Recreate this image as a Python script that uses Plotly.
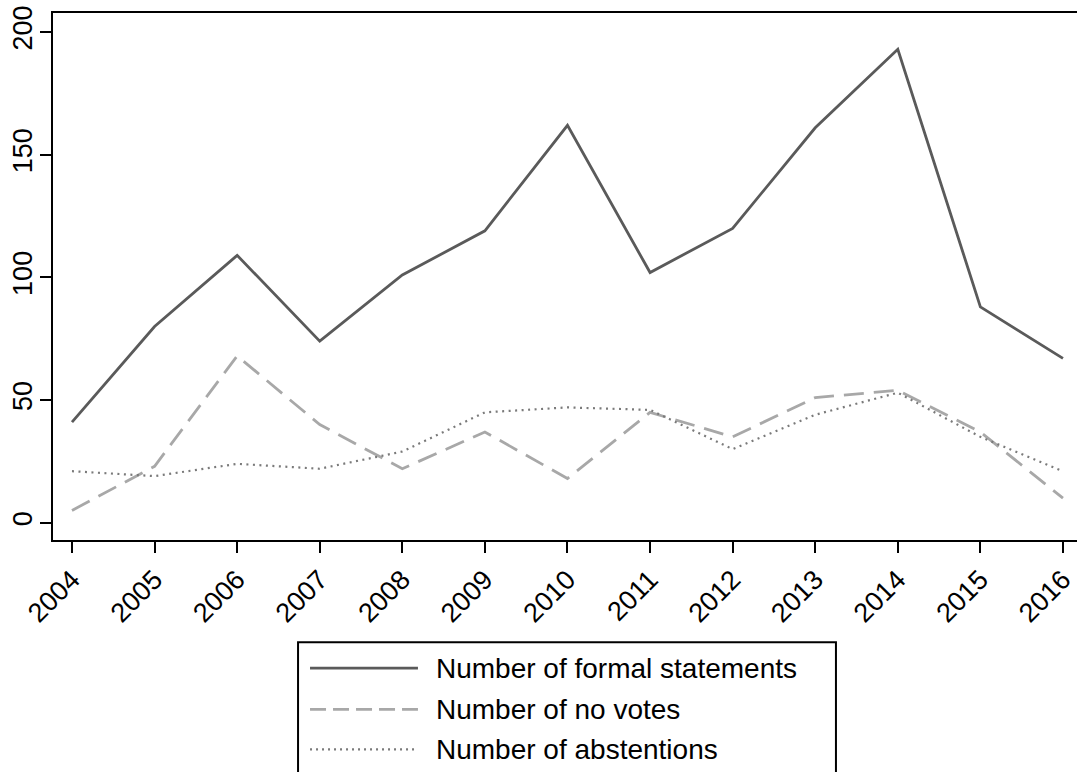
import plotly.graph_objects as go

years = list(range(2004, 2017))
formal_statements = [41, 80, 109, 74, 101, 119, 162, 102, 120, 161, 193, 88, 67]
no_votes = [5, 23, 68, 40, 22, 37, 18, 45, 35, 51, 54, 37, 10]
abstentions = [21, 19, 24, 22, 29, 45, 47, 46, 30, 44, 53, 35, 21]

y_ticks = [0, 50, 100, 150, 200]
series_names = ["Number of formal statements", "Number of no votes", "Number of abstentions"]

FONT = "Liberation Sans, Arial, sans-serif"
styles = [
    dict(color="#5a5a5a", width=2.8, dash="solid"),
    dict(color="#a8a8a8", width=2.8, dash="20px,10px"),
    dict(color="#7a7a7a", width=2.2, dash="2px,4.5px"),
]

fig = go.Figure()
for name, vals, st in zip(series_names, [formal_statements, no_votes, abstentions], styles):
    fig.add_trace(go.Scatter(x=years, y=vals, mode="lines", name=name,
                             line=dict(color=st["color"], width=st["width"], dash=st["dash"]),
                             showlegend=False))

# Manual legend (Stata-style box with long line samples)
shapes = [dict(type="rect", xref="paper", yref="paper", x0=0.2393, x1=0.7646, y0=-0.55, y1=-0.1939,
               line=dict(color="black", width=2), fillcolor="white", layer="above")]
legend_dash = ["solid", "16px,7px", "2px,4px"]
row_y = [-0.2433, -0.3213, -0.3973]
annotations = []
for name, st, dsh, yy in zip(series_names, styles, legend_dash, row_y):
    shapes.append(dict(type="line", xref="paper", yref="paper", x0=0.251, x1=0.3564, y0=yy, y1=yy,
                       line=dict(color=st["color"], width=st["width"], dash=dsh)))
    annotations.append(dict(x=0.372, y=yy, xref="paper", yref="paper", text=name, showarrow=False,
                            xanchor="left", yanchor="middle",
                            font=dict(family=FONT, size=28, color="black")))

fig.update_layout(
    width=1077, height=772,
    margin=dict(l=53, r=0, t=13, b=232),
    paper_bgcolor="white", plot_bgcolor="white",
    font=dict(family=FONT, size=27, color="black"),
    shapes=shapes, annotations=annotations,
    xaxis=dict(range=[2003.77, 2016.17], tickvals=years, ticktext=[str(y) for y in years],
               tickangle=-45, ticks="outside", ticklen=11, tickwidth=2, tickcolor="black",
               showline=True, linecolor="black", linewidth=2, mirror=True, automargin=False,
               ticklabeloverflow="allow",
               showgrid=False, zeroline=False, tickfont=dict(family=FONT, size=27, color="black")),
    yaxis=dict(range=[-7.05, 207.8], tickvals=y_ticks, ticktext=[str(v) for v in y_ticks],
               tickangle=-90, ticks="outside", ticklen=11, tickwidth=2, tickcolor="black",
               showline=True, linecolor="black", linewidth=2, mirror=False, automargin=False,
               ticklabeloverflow="allow",
               showgrid=False, zeroline=False, ticklabelstandoff=-3,
               tickfont=dict(family=FONT, size=27, color="black")),
)

# Remove the default 8px page margin so the figure fills the window exactly; hide the modebar.
fig.write_html("out.html",
               config={"displayModeBar": False},
               post_script="document.body.style.margin='0px';document.body.style.overflow='hidden';")
